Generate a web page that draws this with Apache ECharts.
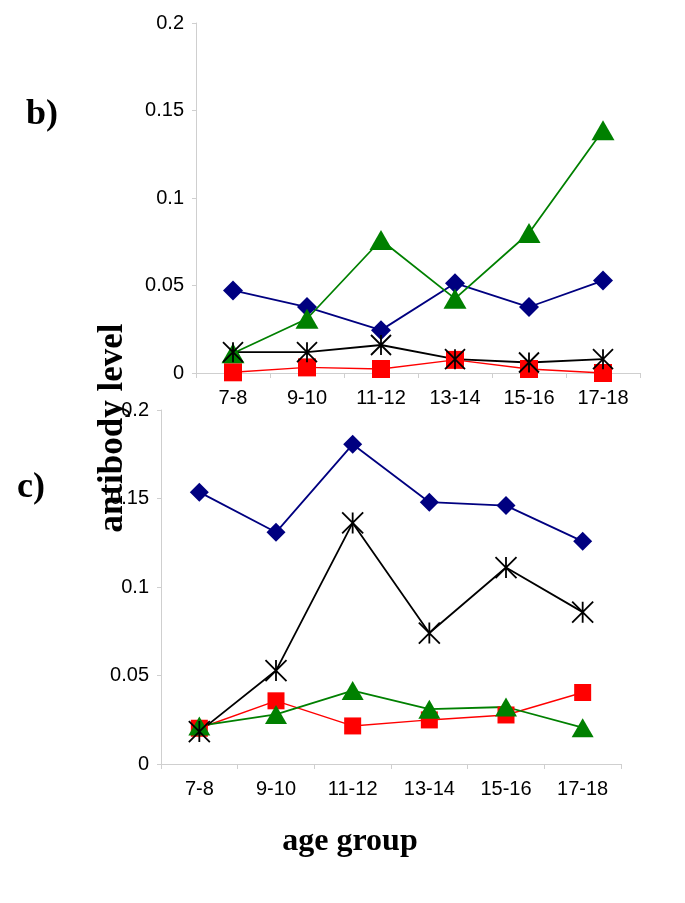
<!DOCTYPE html>
<html><head><meta charset="utf-8">
<script src="https://cdn.jsdelivr.net/npm/echarts@6/dist/echarts.min.js"></script>
<style>html,body{margin:0;padding:0;background:#fff}#c{width:685px;height:903px}</style>
</head><body><div id="c"></div>
<script>
var categories = ['7-8','9-10','11-12','13-14','15-16','17-18'];
var yTicks = [0, 0.05, 0.1, 0.15, 0.2];
// panel b)
var bBlue  = [0.0472, 0.0377, 0.0245, 0.0513, 0.0377, 0.0528];
var bRed   = [0.0004, 0.0032, 0.0023, 0.0075, 0.0023, 0.0000];
var bGreen = [0.0113, 0.0310, 0.0760, 0.0425, 0.0800, 0.1387];
var bBlack = [0.0119, 0.0119, 0.0160, 0.0079, 0.0060, 0.0079];
// panel c)
var cBlue  = [0.1536, 0.1309, 0.1806, 0.1479, 0.1460, 0.1258];
var cRed   = [0.0202, 0.0357, 0.0215, 0.0249, 0.0277, 0.0404];
var cGreen = [0.0215, 0.0280, 0.0415, 0.0310, 0.0322, 0.0205];
var cBlack = [0.0183, 0.0528, 0.1362, 0.0740, 0.1110, 0.0858];

var starPath = 'path://M0,0L10,10M10,0L0,10M5,0L5,10';
var sansFont = '"Liberation Sans", Arial, sans-serif';
var serifFont = '"Liberation Serif", "Times New Roman", serif';

function xAxis(gi){
  return {type:'category', gridIndex:gi, data:categories, boundaryGap:true,
    axisLine:{lineStyle:{color:'#cfcfcf', width:1}},
    axisTick:{show:true, alignWithLabel:false, length:5, lineStyle:{color:'#cfcfcf'}},
    axisLabel:{color:'#000', fontSize:20, fontFamily:sansFont, margin:15},
    splitLine:{show:false}};
}
function yAxis(gi){
  return {type:'value', gridIndex:gi, min:yTicks[0], max:yTicks[yTicks.length-1], interval:0.05,
    axisLine:{show:true, lineStyle:{color:'#cfcfcf', width:1}},
    axisTick:{show:true, length:4, lineStyle:{color:'#cfcfcf'}},
    axisLabel:{color:'#000', fontSize:20, fontFamily:sansFont, margin:12},
    splitLine:{show:false}};
}
function ser(gi, data, color, symbol, size, lw){
  return {type:'line', xAxisIndex:gi, yAxisIndex:gi, data:data, symbol:symbol, symbolSize:size,
    clip:false, animation:false,
    lineStyle:{color:color, width:lw},
    itemStyle:{color:color, borderColor:color, borderWidth: symbol===starPath?1.8:0}};
}

var chart = echarts.init(document.getElementById('c'), null, {renderer:'canvas'});
chart.setOption({
  backgroundColor:'#fff',
  animation:false,
  grid:[
    {left:196, right:45, top:23, height:350},
    {left:161, right:64, top:410, height:354}
  ],
  xAxis:[xAxis(0), xAxis(1)],
  yAxis:[yAxis(0), yAxis(1)],
  series:[
    ser(0, bBlue, '#000080', 'diamond', 20, 1.8),
    ser(0, bRed, '#ff0000', 'rect', 18, 1.4),
    ser(0, bGreen, '#008000', 'triangle', [23,20], 1.8),
    ser(0, bBlack, '#000000', starPath, 20, 1.8),
    ser(1, cBlue, '#000080', 'diamond', 19, 1.8),
    ser(1, cRed, '#ff0000', 'rect', 17, 1.4),
    ser(1, cGreen, '#008000', 'triangle', [22,19], 1.8),
    ser(1, cBlack, '#000000', starPath, 21, 1.8)
  ],
  graphic:[
    {type:'text', left:26, top:97, z:100, style:{text:'b)', font:'bold 36px '+serifFont, fill:'#000'}},
    {type:'text', left:17, top:470, z:100, style:{text:'c)', font:'bold 36px '+serifFont, fill:'#000'}},
    {type:'text', x:113, y:428, rotation:Math.PI/2, z:100,
      style:{text:'antibody level', font:'bold 35px '+serifFont, fill:'#000', align:'center', verticalAlign:'middle'}},
    {type:'text', x:350, y:842, z:100,
      style:{text:'age group', font:'bold 32px '+serifFont, fill:'#000', align:'center', verticalAlign:'middle'}}
  ]
});
</script></body></html>
